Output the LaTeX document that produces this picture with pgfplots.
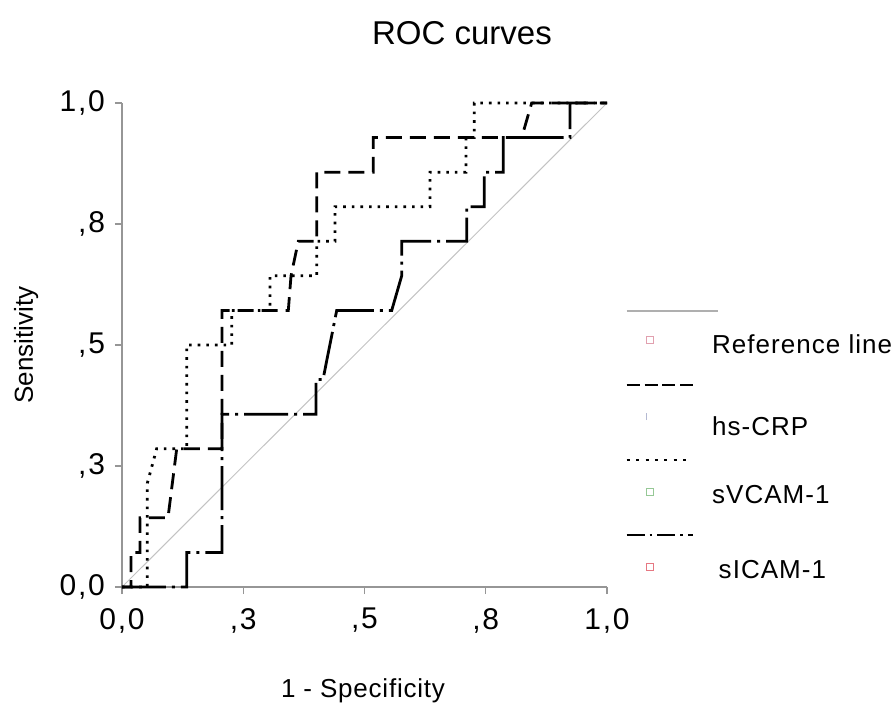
\documentclass[border=0pt]{standalone}
\usepackage{fontspec}
\setmainfont{Liberation Sans}
\usepackage{pgfplots}
\pgfplotsset{compat=1.18}
\definecolor{axisgray}{RGB}{150,150,150}
\definecolor{refgray}{RGB}{195,195,195}
\definecolor{sqpink}{RGB}{225,160,175}
\definecolor{sqblue}{RGB}{180,185,210}
\definecolor{sqgreen}{RGB}{150,200,150}
\definecolor{sqred}{RGB}{230,120,130}
\newcommand{\tickfont}{\fontsize{15}{17}\selectfont\addfontfeatures{LetterSpace=6}}
\newcommand{\legfont}{\fontsize{13}{15}\selectfont\addfontfeatures{LetterSpace=4}}
\begin{document}
\begin{tikzpicture}
\path[use as bounding box] (-61pt,-57.5pt) rectangle (385.5pt,293.5pt);
\begin{axis}[
  at={(0pt,0pt)}, anchor=south west,
  scale only axis, width=242.5pt, height=242pt,
  xmin=0, xmax=1, ymin=0, ymax=1,
  axis x line=bottom, axis y line=left,
  axis line style={axisgray, line width=0.6pt, -},
  tick align=outside, major tick length=3.5pt,
  tick style={axisgray, line width=0.6pt},
  xtick={0,0.25,0.5,0.75,1},
  xticklabels={{0,0},{,3},{,5},{,8},{1,0}},
  ytick={0,0.25,0.5,0.75,1},
  yticklabels={{0,0},{,3},{,5},{,8},{1,0}},
  ticklabel style={font=\tickfont, text=black},
  xticklabel style={yshift=-3.5pt},
  yticklabel style={xshift=-1.5pt},
  clip=false,
]
\addplot[refgray, line width=0.5pt] coordinates {(0,0)(1,1)};
% hs-CRP
\addplot[black, line width=1.4pt, dash pattern=on 8pt off 4pt] coordinates {
(0,0)(0.0186,0)(0.0186,0.0714)(0.0371,0.0714)(0.0371,0.1429)(0.0948,0.1429)
(0.1128,0.2857)(0.2062,0.2857)(0.2062,0.5714)(0.3429,0.5714)(0.3485,0.6429)
(0.3635,0.7143)(0.4014,0.7143)(0.4014,0.8571)(0.5181,0.8571)(0.5181,0.9286)
(0.8241,0.9286)(0.8447,1)(1,1)};
% sVCAM-1
\addplot[black, line width=1.4pt, dash pattern=on 1.3pt off 3pt] coordinates {
(0,0)(0.0522,0)(0.0522,0.2143)(0.0715,0.2857)(0.1334,0.2857)(0.1334,0.5)
(0.2262,0.5)(0.2262,0.5714)(0.3052,0.5714)(0.3052,0.6429)(0.4014,0.6429)
(0.4014,0.7143)(0.4392,0.7143)(0.4392,0.7857)(0.6351,0.7857)(0.6351,0.8571)
(0.7093,0.8571)(0.7093,0.9286)(0.7264,0.9286)(0.7264,1)(1,1)};
% sICAM-1
\addplot[black, line width=1.4pt, dash pattern=on 22pt off 3pt on 1.5pt off 3pt] coordinates {
(0,0)(0.1334,0)(0.1334,0.0714)(0.2062,0.0714)(0.2062,0.3571)(0.4000,0.3571)
(0.4000,0.4286)(0.4144,0.4286)(0.4427,0.5714)(0.5561,0.5714)(0.5767,0.6429)
(0.5767,0.7143)(0.7107,0.7143)(0.7107,0.7857)(0.7470,0.7857)(0.7470,0.8571)
(0.7862,0.8571)(0.7862,0.9286)(0.9237,0.9286)(0.9237,1)(1,1)};
\end{axis}
% titles
\node[anchor=base, font=\fontsize{16.5}{19}\selectfont] at (170pt,271pt) {ROC curves};
\node[anchor=base, font=\fontsize{13}{15}\selectfont\addfontfeatures{LetterSpace=3}] at (120.5pt,-55pt) {1 - Specificity};
\node[anchor=base, rotate=90, font=\fontsize{13}{15}\selectfont] at (-44.5pt,121pt) {Sensitivity};
% legend
\draw[refgray!90!black, line width=0.9pt] (252.35pt,138pt) -- (298.15pt,138pt);
\draw[sqpink, line width=0.4pt] (262.25pt,121.75pt) rectangle ++(3.5pt,3.5pt);
\node[anchor=base west, inner sep=0pt, font=\legfont] at (294.85pt,117pt) {Reference line};
\draw[black, line width=1.4pt, dash pattern=on 6.5pt off 2.4pt] (252.35pt,101pt) -- (285.65pt,101pt);
\draw[sqblue, line width=0.5pt] (262.35pt,83.5pt) -- (262.35pt,87pt);
\node[anchor=base west, inner sep=0pt, font=\legfont] at (294.85pt,76pt) {hs-CRP};
\draw[black, line width=1.4pt, dash pattern=on 1.5pt off 3.2pt] (252.35pt,63.5pt) -- (285pt,63.5pt);
\draw[sqgreen, line width=0.4pt] (262.25pt,45.9pt) rectangle ++(3.5pt,3.5pt);
\node[anchor=base west, inner sep=0pt, font=\legfont] at (294.85pt,41.85pt) {sVCAM-1};
\draw[black, line width=1.4pt, dash pattern=on 9pt off 2.5pt on 1.3pt off 2.5pt] (252.35pt,26pt) -- (285.65pt,26pt);
\draw[sqred, line width=0.4pt] (262.25pt,8.4pt) rectangle ++(3.5pt,3.5pt);
\node[anchor=base west, inner sep=0pt, font=\legfont] at (298.15pt,4.35pt) {sICAM-1};
\end{tikzpicture}
\end{document}
